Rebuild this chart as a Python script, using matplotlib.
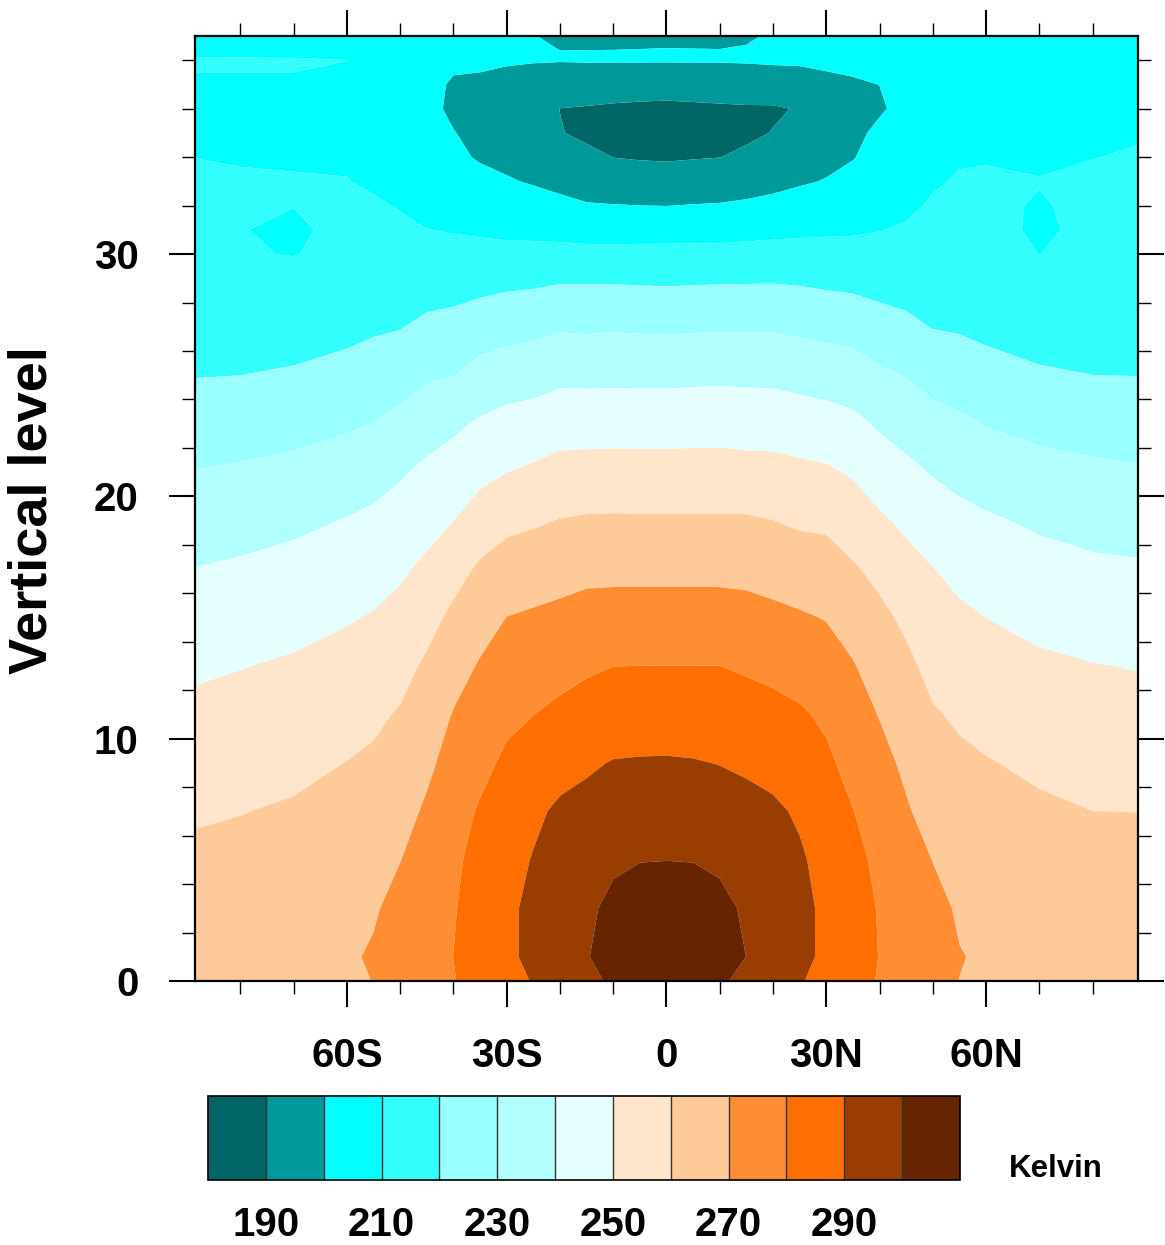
import numpy as np
import matplotlib
matplotlib.use("Agg")
import matplotlib.pyplot as plt
from matplotlib.colors import ListedColormap
from matplotlib.ticker import FixedLocator, MultipleLocator

plt.rcParams['font.family'] = ['Liberation Sans', 'DejaVu Sans']
plt.rcParams['font.weight'] = 'bold'

# Zonal-mean temperature (K) by latitude and vertical level
lat = [-88.5, -80, -70, -60, -55, -50, -45, -40, -35, -30, -25, -20, -15, -10, -5, 0,
       5, 10, 15, 20, 25, 30, 35, 40, 45, 50, 55, 60, 70, 80, 88.5]
lev = [0, 1, 3, 5, 7, 9, 11, 13, 15, 17, 19, 21, 23, 25, 27, 29,
       30, 31, 32, 33, 34, 35, 36, 37, 38, 39]

# one list per latitude, values from level 0 upward
temp_by_lat = [
    # 88.5S
    [265.5, 266.5, 264.1, 261.7, 259.0, 255.6, 252.2, 248.5, 244.4, 240.2, 235.3, 230.3, 224.7,
     219.7, 217.5, 215.4, 214.3, 213.2, 212.1, 211.1, 209.95, 209.8, 209.7, 209.7, 210.3, 207.3],
    # 80S
    [266.2, 267.2, 265.3, 262.55, 259.75, 256.4, 253.1, 249.7, 245.5, 241.3, 236.4, 231.2, 225.6,
     220.0, 216.0, 212.0, 210.4, 210.1, 210.3, 210.3, 209.8, 209.6, 209.5, 209.7, 210.3, 207.5],
    # 70S
    [267.0, 268.0, 266.4, 263.7, 261.0, 257.8, 254.5, 251.1, 247.1, 242.8, 238.1, 232.5, 226.8,
     220.9, 216.4, 212.1, 209.8, 209.5, 210.05, 210.2, 209.7, 209.5, 209.5, 209.75, 210.25, 207.6],
    # 60S
    [268.0, 268.8, 267.5, 265.0, 262.6, 260.15, 256.6, 253.0, 249.3, 244.9, 240.4, 234.7, 228.8,
     222.9, 217.6, 212.8, 211.5, 210.8, 210.4, 210.15, 209.4, 209.2, 209.1, 209.3, 210.02, 207.0],
    # 55S
    [270.2, 271.0, 269.0, 266.5, 263.9, 261.4, 258.3, 254.5, 250.6, 246.3, 241.9, 236.5, 230.2,
     224.1, 218.9, 215.6, 214.0, 212.3, 210.7, 209.2, 208.2, 207.5, 207.0, 207.0, 207.5, 206.3],
    # 50S
    [273.3, 274.0, 273.0, 269.8, 266.7, 263.8, 260.8, 257.0, 252.9, 248.6, 244.0, 239.0, 232.6,
     226.0, 219.6, 215.4, 213.3, 211.2, 209.6, 208.3, 206.8, 205.2, 204.0, 203.8, 204.8, 205.5],
    # 45S
    [276.5, 277.0, 275.9, 274.1, 271.3, 268.1, 264.7, 261.4, 256.9, 251.8, 246.8, 241.9, 235.9,
     228.9, 221.8, 215.8, 213.0, 210.1, 208.0, 206.0, 204.0, 202.6, 201.5, 201.6, 202.9, 204.2],
    # 40S
    [279.6, 280.05, 279.4, 278.5, 276.5, 273.5, 270.5, 266.3, 262.0, 256.5, 249.9, 244.4, 238.3,
     229.7, 222.8, 216.0, 212.7, 209.5, 207.2, 204.9, 201.5, 200.2, 199.0, 199.4, 201.0, 203.0],
    # 35S
    [283.2, 284.2, 283.8, 282.6, 280.9, 277.6, 274.2, 270.8, 266.3, 261.4, 254.5, 247.5, 241.1,
     233.4, 225.0, 216.6, 212.6, 208.8, 205.5, 202.2, 199.3, 198.5, 198.2, 199.0, 201.0, 202.5],
    # 30S
    [286.9, 288.3, 288.3, 286.7, 284.7, 281.6, 278.1, 274.1, 270.1, 264.2, 257.7, 249.9, 243.1,
     235.2, 226.5, 217.5, 212.5, 208.1, 204.4, 200.7, 198.0, 197.5, 197.2, 198.5, 200.5, 202.0],
    # 25S
    [290.5, 292.1, 292.0, 290.5, 288.2, 283.7, 279.9, 275.5, 271.2, 265.4, 258.9, 251.5, 244.1,
     236.2, 227.4, 217.9, 212.6, 207.8, 203.5, 199.3, 196.0, 194.0, 193.6, 196.5, 200.5, 200.1],
    # 20S
    [294.2, 295.9, 295.3, 293.0, 291.6, 286.6, 281.9, 277.1, 272.2, 266.6, 260.3, 253.3, 245.9,
     237.8, 229.0, 218.8, 212.7, 207.25, 202.25, 197.5, 193.8, 190.4, 189.9, 195.0, 200.4, 199.4],
    # 15S
    [297.8, 299.6, 298.6, 295.5, 292.4, 288.9, 283.8, 278.7, 273.4, 267.7, 261.0, 253.6, 245.9,
     237.7, 228.6, 218.75, 212.5, 206.5, 200.6, 196.25, 192.1, 188.3, 189.3, 195.5, 200.5, 199.3],
    # 10S
    [301.3, 302.9, 301.8, 298.8, 294.5, 290.4, 285.2, 279.95, 273.9, 267.7, 261.1, 253.8, 246.0,
     237.8, 229.0, 218.75, 212.5, 206.4, 200.3, 195.1, 189.9, 186.5, 188.8, 194.2, 200.6, 199.2],
    # 5S
    [304.6, 306.2, 303.3, 299.8, 295.2, 290.7, 285.4, 280.02, 273.9, 267.7, 261.0, 253.7, 246.0,
     237.7, 228.7, 218.5, 212.6, 206.4, 200.05, 194.7, 189.3, 185.8, 188.3, 194.1, 200.6, 199.3],
    # EQ
    [308.0, 309.5, 304.8, 299.9, 295.35, 290.8, 285.4, 280.05, 273.9, 267.7, 261.0, 253.7, 246.0,
     237.7, 228.5, 218.3, 212.6, 206.5, 199.9, 194.4, 189.0, 185.5, 188.0, 194.0, 200.6, 199.4],
    # 5N
    [304.6, 306.3, 303.4, 299.8, 295.1, 290.5, 285.2, 280.02, 273.9, 267.7, 261.0, 253.8, 246.1,
     238.0, 228.8, 218.5, 212.65, 206.6, 200.3, 194.9, 189.5, 186.0, 188.4, 194.2, 200.6, 199.35],
    # 10N
    [301.2, 303.2, 301.9, 298.8, 294.3, 289.75, 284.9, 280.02, 273.9, 267.7, 261.0, 253.8, 246.3,
     238.2, 229.0, 218.75, 212.7, 206.7, 200.6, 195.3, 189.9, 186.6, 188.8, 194.5, 200.6, 199.3],
    # 15N
    [297.7, 299.95, 299.0, 295.7, 292.5, 288.8, 283.9, 278.9, 273.3, 267.4, 261.0, 253.3, 245.9,
     238.0, 229.0, 218.8, 212.9, 207.3, 201.2, 196.7, 191.7, 188.4, 189.0, 195.5, 200.7, 199.6],
    # 20N
    [294.2, 296.2, 295.6, 293.2, 291.6, 287.0, 282.6, 277.8, 272.2, 266.25, 260.05, 253.1, 245.8,
     237.8, 229.0, 218.9, 213.3, 207.8, 202.4, 197.5, 193.5, 190.3, 189.0, 196.0, 201.0, 200.4],
    # 25N
    [290.7, 292.3, 292.2, 291.2, 288.8, 285.0, 281.1, 276.3, 271.0, 264.9, 258.7, 252.1, 244.8,
     236.8, 228.1, 218.5, 213.3, 208.3, 203.6, 199.1, 195.8, 193.2, 190.6, 197.5, 200.8, 201.0],
    # 30N
    [286.9, 288.3, 288.4, 286.9, 284.1, 281.6, 278.5, 274.1, 269.6, 265.4, 257.7, 251.3, 243.8,
     235.8, 227.1, 217.7, 213.2, 208.75, 204.6, 200.4, 198.0, 196.8, 196.0, 198.8, 201.0, 202.0],
    # 35N
    [283.1, 284.0, 283.9, 282.4, 280.2, 277.1, 273.9, 270.6, 266.0, 261.0, 255.2, 249.0, 242.3,
     234.7, 226.1, 217.2, 213.0, 209.0, 205.8, 202.6, 199.6, 198.5, 198.1, 199.4, 201.3, 202.6],
    # 40N
    [279.4, 279.75, 279.4, 278.1, 275.8, 272.75, 269.6, 265.9, 262.2, 257.5, 251.4, 245.2, 238.8,
     231.75, 223.75, 216.3, 213.0, 209.8, 207.7, 205.5, 203.4, 201.3, 199.3, 200.05, 202.0, 203.5],
    # 45N
    [276.2, 276.7, 275.9, 273.9, 270.9, 268.3, 265.1, 262.0, 258.2, 253.3, 248.1, 242.3, 236.1,
     229.6, 221.9, 216.1, 213.4, 210.8, 208.5, 206.6, 204.8, 203.3, 201.8, 202.0, 203.5, 204.5],
    # 50N
    [272.9, 273.6, 273.0, 269.8, 266.6, 263.75, 260.8, 257.4, 253.8, 250.2, 244.9, 239.4, 233.3,
     226.7, 219.65, 216.1, 214.4, 212.6, 210.9, 209.2, 207.8, 206.2, 204.5, 204.5, 205.0, 205.5],
    # 55N
    [269.9, 270.4, 268.8, 266.4, 264.0, 261.6, 258.8, 255.3, 251.7, 247.4, 242.6, 237.3, 231.7,
     225.0, 219.1, 216.3, 214.9, 213.4, 212.0, 210.6, 209.4, 208.4, 207.7, 207.7, 208.0, 207.6],
    # 60N
    [268.0, 268.8, 267.5, 265.2, 262.8, 260.5, 257.1, 253.6, 249.95, 245.6, 241.1, 235.6, 229.6,
     222.5, 218.4, 214.0, 212.4, 210.8, 210.5, 210.4, 209.8, 209.3, 209.2, 209.3, 209.5, 208.5],
    # 70N
    [267.0, 268.0, 266.4, 263.9, 261.35, 258.4, 255.0, 251.5, 247.6, 243.3, 238.6, 233.2, 227.4,
     221.0, 216.4, 212.2, 209.95, 209.6, 209.8, 210.1, 209.6, 209.3, 209.2, 209.3, 209.5, 208.5],
    # 80N
    [266.2, 267.2, 265.5, 262.8, 260.02, 256.8, 253.6, 250.3, 246.1, 241.7, 236.9, 231.8, 226.1,
     220.02, 217.0, 214.0, 212.3, 210.6, 210.6, 210.5, 209.95, 209.6, 209.4, 209.4, 209.6, 208.5],
    # 88.5N
    [265.5, 266.5, 264.3, 262.15, 259.95, 256.55, 253.1, 249.6, 245.3, 241.1, 236.2, 231.0, 225.4,
     219.9, 217.7, 215.6, 214.5, 213.4, 212.4, 211.3, 210.2, 209.8, 209.6, 209.5, 209.6, 208.5],
]

levels = [190, 200, 210, 220, 230, 240, 250, 260, 270, 280, 290, 300]
colors = ['#006666', '#009999', '#00FFFF', '#33FFFF', '#99FFFF', '#B2FFFF', '#E5FFFF',
          '#FFE5CB', '#FFCA99', '#FF8E33', '#FF6E00', '#993D00', '#662500']
cbar_ticks = [190, 210, 230, 250, 270, 290]
lat_ticks = [-60, -30, 0, 30, 60]
lat_labels = ['60S', '30S', '0', '30N', '60N']
lev_ticks = [0, 10, 20, 30]

W, H = 1165, 1245
fig = plt.figure(figsize=(W / 100, H / 100), dpi=100)
ax = fig.add_axes([195 / W, 1 - 981 / H, (1138 - 195) / W, (981 - 36) / H])

cmap = ListedColormap(colors[1:-1])
cmap.set_under(colors[0])
cmap.set_over(colors[-1])

T = np.array(temp_by_lat).T
cf = ax.contourf(lat, lev, T, levels=levels, cmap=cmap, extend='both', antialiased=True)

ax.set_xlim(-88.5, 88.5)
ax.set_ylim(0, 39)
ax.xaxis.set_major_locator(FixedLocator(lat_ticks))
ax.set_xticklabels(lat_labels)
ax.xaxis.set_minor_locator(MultipleLocator(10))
ax.yaxis.set_major_locator(FixedLocator(lev_ticks))
ax.yaxis.set_minor_locator(MultipleLocator(2))

for s in ax.spines.values():
    s.set_linewidth(1.6)
ax.tick_params(which='both', direction='out', top=True, right=True,
               labeltop=False, labelright=False)
ax.tick_params(which='major', length=18.5, width=1.5, labelsize=29, pad=22)
ax.tick_params(which='minor', length=9.3, width=1.0)
for lab in ax.get_xticklabels() + ax.get_yticklabels():
    lab.set_fontweight('bold')

fig.text(33 / W, 1 - 510 / H, 'Vertical level', rotation=90, ha='center', va='center',
         fontsize=39, fontweight='bold')

cax = fig.add_axes([208 / W, 1 - 1180 / H, (960 - 208) / W, (1180 - 1096) / H])
cb = fig.colorbar(cf, cax=cax, orientation='horizontal', ticks=cbar_ticks,
                  extendrect=True, extendfrac=1 / 11, drawedges=True)
cb.outline.set_linewidth(1.2)
cb.dividers.set_linewidth(1.0)
cb.dividers.set_color('#333333')
cax.tick_params(length=0, labelsize=29, pad=19)
for lab in cax.get_xticklabels():
    lab.set_fontweight('bold')

fig.text(1056 / W, 1 - 1169 / H, 'Kelvin', ha='center', va='center',
         fontsize=22.5, fontweight='bold')

fig.savefig('out.png', dpi=100)
